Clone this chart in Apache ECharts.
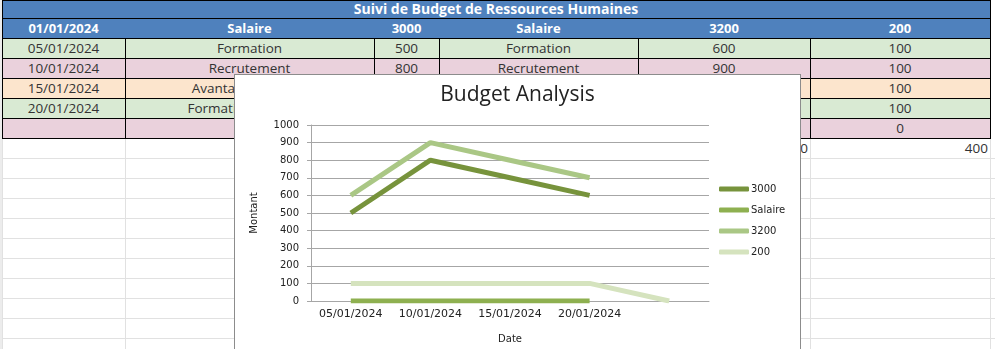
<!DOCTYPE html>
<html>
<head>
<meta charset="utf-8">
<script src="https://cdn.jsdelivr.net/npm/echarts@6/dist/echarts.min.js"></script>
<style>
  html, body { margin: 0; padding: 0; background: #fff; width: 995px; height: 349px; overflow: hidden; }
  #sheet { position: absolute; left: 0; top: 0; width: 995px; height: 349px; font-family: "Open Sans", sans-serif; }
  .cell { position: absolute; box-sizing: border-box; line-height: 20px; font-size: 13.5px; color: #333; white-space: nowrap; overflow: visible; }
  .line { position: absolute; }
  #chart { position: absolute; left: 234px; top: 74px; width: 565px; height: 290px; border: 1px solid #8c8c8c; background: #fff; z-index: 5; }
</style>
</head>
<body>
<div id="sheet"></div>
<div id="chart"></div>
<script>
// Sheet contents
const title = 'Suivi de Budget de Ressources Humaines';
const headerRow = ['01/01/2024', 'Salaire', '3000', 'Salaire', '3200', '200'];
const dates = ['05/01/2024', '10/01/2024', '15/01/2024', '20/01/2024', ''];
const descriptions = ['Formation', 'Recrutement', 'Avantages sociaux', 'Formation continue', ''];
const rowColors = ['#d9ead3', '#ead1dc', '#fce5cd', '#d9ead3', '#ead1dc'];

// Chart series
const categories = ['05/01/2024', '10/01/2024', '15/01/2024', '20/01/2024', ''];
const values3000 = [500, 800, 700, 600, null];
const valuesSalaire = [0, 0, 0, 0, null];
const values3200 = [600, 900, 800, 700, null];
const values200 = [100, 100, 100, 100, 0];
const seriesNames = ['3000', 'Salaire', '3200', '200'];
const seriesColors = ['#77933c', '#8eb050', '#aac785', '#d5e3be'];

// ---- spreadsheet grid ----
const colEdges = [2, 125, 374, 439, 638, 810, 990];
const sheet = document.getElementById('sheet');
function box(x, y, w, h, css) {
  const d = document.createElement('div');
  d.className = 'line';
  d.style.left = x + 'px'; d.style.top = y + 'px';
  d.style.width = w + 'px'; d.style.height = h + 'px';
  Object.assign(d.style, css || {});
  sheet.appendChild(d);
  return d;
}
function text(x, y, w, str, align, css) {
  const d = document.createElement('div');
  d.className = 'cell';
  d.style.left = x + 'px'; d.style.top = y + 'px';
  d.style.width = w + 'px'; d.style.height = '20px';
  d.style.textAlign = align;
  d.style.padding = '0 3px';
  d.textContent = str;
  Object.assign(d.style, css || {});
  sheet.appendChild(d);
}
// light gridlines of the empty sheet
box(0, 0, 2, 349, { background: '#ececec' });
for (let y = 158; y < 349; y += 20) box(2, y, 993, 1, { background: '#e1e1e1' });
colEdges.forEach(x => box(x, 138, 1, 211, { background: '#e1e1e1' }));

// banner rows
box(2, 0, 988, 38, { background: '#4f81bd' });
text(2, -1, 988, title, 'center', { color: '#fff', fontWeight: 'bold', fontSize: '14px' });
headerRow.forEach((h, i) => {
  text(colEdges[i], 18, colEdges[i + 1] - colEdges[i], h, 'center', { color: '#fff', fontWeight: 'bold', fontSize: '13px' });
});

// data rows
dates.forEach((d, r) => {
  const y = 38 + r * 20;
  box(2, y, 988, 20, { background: rowColors[r] });
  const cells = [d, descriptions[r], values3000[r], descriptions[r], values3200[r], values200[r]];
  cells.forEach((c, i) => {
    const w = colEdges[i + 1] - colEdges[i];
    const d = text(colEdges[i], y, w, c === null ? '' : String(c), 'center');
  });
});

// totals row under the table
const sum = a => a.reduce((s, v) => s + (v || 0), 0);
const totals = ['', '', sum(values3000), '', sum(values3200), sum(values200)];
totals.forEach((t, i) => {
  if (t !== '') text(colEdges[i], 138, colEdges[i + 1] - colEdges[i], String(t), 'right', { padding: '0 2px' });
});

// black borders of the table
box(2, 0, 988, 1, { background: '#000' });
[18, 38, 58, 78, 98, 118, 138].forEach(y => box(2, y, 988, 1, { background: '#000' }));
box(2, 0, 1, 139, { background: '#000' });
box(990, 0, 1, 139, { background: '#000' });
colEdges.slice(1, 6).forEach(x => box(x, 38, 1, 101, { background: '#000' }));

// ---- chart ----
const chart = echarts.init(document.getElementById('chart'), null, { renderer: 'canvas' });
const valueSets = [values3000, valuesSalaire, values3200, values200];
chart.setOption({
  animation: false,
  backgroundColor: '#fff',
  title: {
    text: 'Budget Analysis',
    left: 'center',
    top: 5,
    textStyle: { fontFamily: 'Open Sans', fontSize: 21, fontWeight: 'normal', color: '#222' }
  },
  legend: {
    orient: 'vertical',
    left: 479,
    top: 103,
    itemWidth: 30,
    itemHeight: 5,
    itemGap: 9,
    icon: 'roundRect',
    data: seriesNames,
    textStyle: { fontFamily: 'DejaVu Sans', fontSize: 10, color: '#222', lineHeight: 12, padding: [0, 0, 0, -3] }
  },
  grid: { left: 76, top: 50, width: 398, height: 176 },
  xAxis: {
    type: 'category',
    data: categories,
    boundaryGap: true,
    name: 'Date',
    nameLocation: 'middle',
    nameGap: 33,
    nameTextStyle: { fontFamily: 'DejaVu Sans', fontSize: 10, color: '#222' },
    axisLine: { lineStyle: { color: '#a6a6a6', width: 1 } },
    axisTick: { show: false },
    axisLabel: { fontFamily: 'DejaVu Sans', fontSize: 11, color: '#222', margin: 8, interval: 0 },
    splitLine: { show: false }
  },
  yAxis: {
    type: 'value',
    min: 0,
    max: 1000,
    interval: 100,
    name: 'Montant',
    nameLocation: 'middle',
    nameGap: 52,
    nameTextStyle: { fontFamily: 'DejaVu Sans', fontSize: 10, color: '#222' },
    axisLine: { show: true, lineStyle: { color: '#a6a6a6', width: 1 } },
    axisTick: { show: true, inside: false, length: 4, lineStyle: { color: '#a6a6a6' } },
    axisLabel: { fontFamily: 'DejaVu Sans', fontSize: 10, color: '#222', margin: 12, formatter: v => String(v) },
    splitLine: { lineStyle: { color: '#a6a6a6', width: 1 } }
  },
  series: seriesNames.map((name, i) => ({
    name: name,
    type: 'line',
    data: valueSets[i],
    symbol: 'none',
    connectNulls: false,
    itemStyle: { color: seriesColors[i] },
    lineStyle: { color: seriesColors[i], width: 5 }
  }))
});
</script>
</body>
</html>
